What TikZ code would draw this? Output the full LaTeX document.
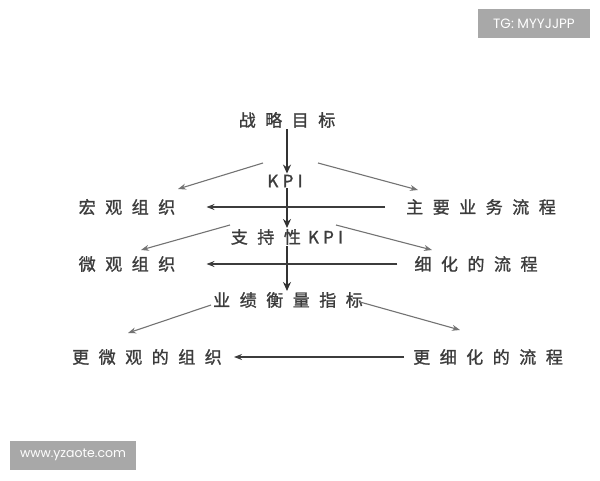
\documentclass[tikz,border=0pt]{standalone}
\usepackage{fontspec}
\usetikzlibrary{arrows.meta}
\newfontfamily\cjk[LetterSpace=56,FakeBold=1.3]{Noto Sans CJK SC}
\newfontfamily\cjklat[LetterSpace=25,FakeBold=1.3]{Noto Sans CJK SC}
\newfontfamily\markfont{Poppins}
\definecolor{ink}{HTML}{3C3C3C}
\definecolor{markgray}{HTML}{A8A8A8}
\tikzset{
  lbl/.style={inner sep=1pt,text=ink,font=\cjk\fontsize{17}{19}\selectfont},
  down/.style={-{Stealth[length=9pt,width=8pt]},line width=1.8pt,draw=black!80},
  side/.style={-{Stealth[length=8pt,width=6pt]},line width=1.1pt,draw=black!55},
  back/.style={-{Stealth[length=8pt,width=6pt]},line width=1.6pt,draw=ink},
  wmark/.style={fill=markgray,text=white,minimum height=29pt,inner sep=0pt}
}
\begin{document}
\begin{tikzpicture}[x=1pt,y=1pt]
            \useasboundingbox (0,0) rectangle (600,480);
            \node[lbl] (goal) at (287,360) {战略目标};
            \node[lbl] (kpi) at (285,299) {\cjklat KPI};
            \node[lbl] (macro) at (127,273) {宏观组织};
            \node[lbl] (mainproc) at (481,273) {主要业务流程};
            \node[lbl] (skpi) at (287,243) {支持性\hspace{7pt}\cjklat KPI};
            \node[lbl] (micro) at (127,216) {微观组织};
            \node[lbl] (fine) at (476,216) {细化的流程};
            \node[lbl] (perf) at (288,180) {业绩衡量指标};
            \node[lbl] (moremicro) at (147,123) {更微观的组织};
            \node[lbl] (morefine) at (488,123) {更细化的流程};
            % main chain
            \draw[down] (goal) -- (goal |- kpi.north);
            \draw[down] (goal |- kpi.south) -- (goal |- skpi.north);
            \draw[down] (goal |- skpi.south) -- (goal |- perf.north);
            % branches
            \draw[side] ([xshift=-22pt,yshift=18pt]kpi.center) -- ([xshift=51pt,yshift=18pt]macro.center);
            \draw[side] ([xshift=33pt,yshift=18pt]kpi.center) -- ([xshift=-63pt,yshift=17pt]mainproc.center);
            \draw[side] ([xshift=-57pt,yshift=12pt]skpi.center) -- ([xshift=14pt,yshift=14pt]micro.center);
            \draw[side] ([xshift=49pt,yshift=12pt]skpi.center) -- ([xshift=-44pt,yshift=14pt]fine.center);
            \draw[side] ([xshift=-77pt,yshift=-5pt]perf.center) -- ([xshift=-19pt,yshift=24pt]moremicro.center);
            \draw[side] ([xshift=72pt,yshift=-2pt]perf.center) -- ([xshift=-28pt,yshift=27pt]morefine.center);
            % back links
            \draw[back,shorten <=20pt,shorten >=30pt] (mainproc.west) -- (macro.east);
            \draw[back,shorten <=16pt,shorten >=30pt] (fine.west) -- (micro.east);
            \draw[back,shorten <=8pt,shorten >=11pt] (morefine.west) -- (moremicro.east);
            % watermarks
            \node[wmark,minimum width=112pt,font=\markfont\fontsize{13.5}{15}\selectfont] (tg) at (534,456) {TG: MYYJJPP};
            \node[wmark,minimum width=126pt,font=\markfont\fontsize{12.5}{15}\selectfont] (site) at (73,25) {www.yzaote.com};
\end{tikzpicture}
\end{document}
